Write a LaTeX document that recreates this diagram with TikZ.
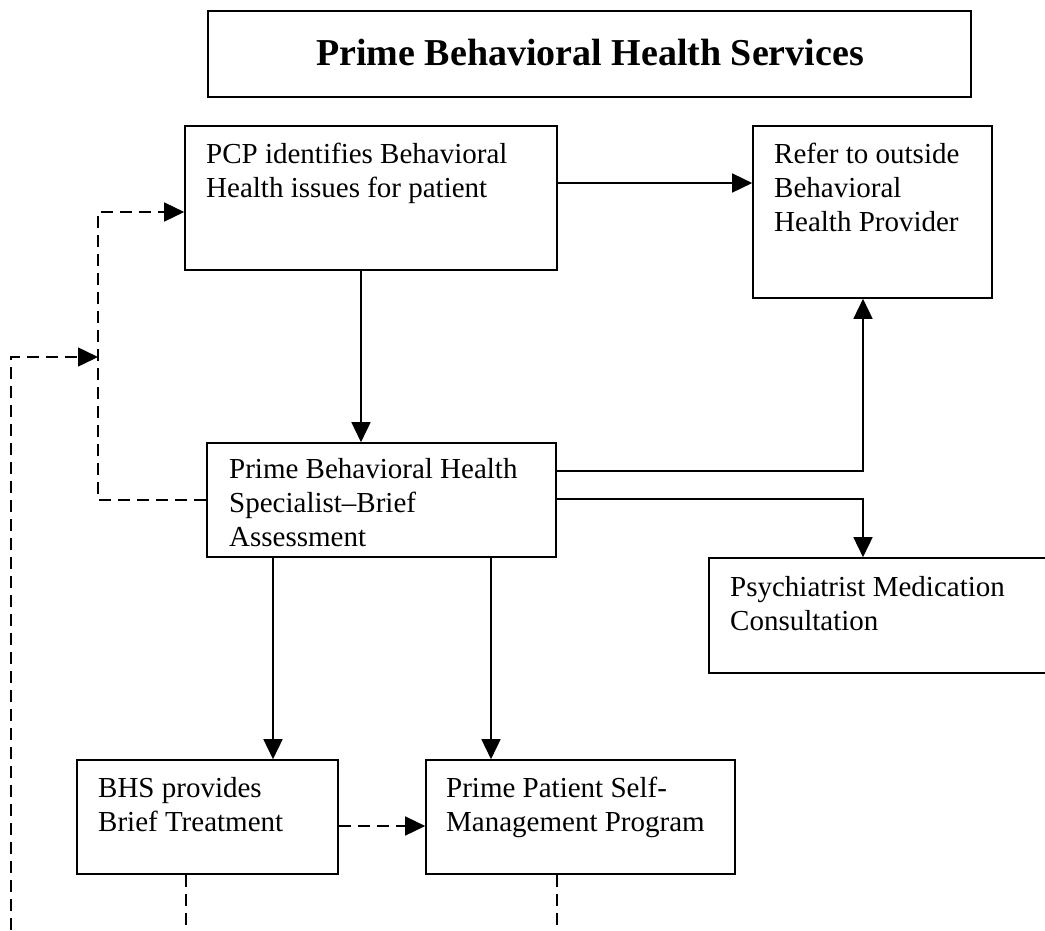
\documentclass[tikz,border=0pt]{standalone}
\usepackage{fontspec}
\setmainfont{Liberation Serif}
\usetikzlibrary{arrows.meta}
\begin{document}
\begin{tikzpicture}[x=1pt,y=-1pt,
  box/.style={draw,line width=1.6pt,inner sep=0pt,rectangle},
  txt/.style={inner sep=0pt,align=left,anchor=base west,font=\fontsize{29}{34}\selectfont},
  arr/.style={line width=1.5pt,-{Triangle[length=20pt,width=19pt]}},
  ln/.style={line width=1.5pt},
  dsh/.style={dash pattern=on 12pt off 7pt}]
\useasboundingbox (0,0) rectangle (1045,930);
% boxes
\node[box,minimum width=763pt,minimum height=86pt] (title) at (589.5,54) {};
\node[box,minimum width=372pt,minimum height=144pt] (pcp) at (371,198) {};
\node[box,minimum width=239pt,minimum height=172pt] (refer) at (872.5,212) {};
\node[box,minimum width=349pt,minimum height=114pt] (pbhs) at (381.5,500) {};
\node[box,minimum width=351pt,minimum height=115pt] (psych) at (884.5,615.5) {};
\node[box,minimum width=261pt,minimum height=114pt] (bhs) at (207.5,817) {};
\node[box,minimum width=309pt,minimum height=114pt] (ppsm) at (580.5,817) {};
% texts
\node[inner sep=0pt,anchor=base,font=\bfseries\fontsize{38}{44}\selectfont] (titlet) at (590,65) {Prime Behavioral Health Services};
\node[txt] (pcpt) at (206,197) {PCP identifies Behavioral\\Health issues for patient};
\node[txt] (refert) at (774,231) {Refer to outside\\Behavioral\\Health Provider};
\node[txt] (pbhst) at (229,546) {Prime Behavioral Health\\Specialist--Brief\\Assessment};
\node[txt] (psycht) at (730,630) {Psychiatrist Medication\\Consultation};
\node[txt] (bhst) at (98,831) {BHS provides\\Brief Treatment};
\node[txt] (ppsmt) at (446,831) {Prime Patient Self-\\Management Program};
% coordinates
\coordinate (jn) at (98,357);
\coordinate (bot) at (11,930);
% solid connectors
\draw[arr] ([yshift=15pt]pcp.east) -- ([yshift=15pt]pcp.east -| refer.west);
\draw[arr] ([xshift=-10pt]pcp.south) -- ([xshift=-10pt]pcp.south |- pbhs.north);
\draw[arr] ([yshift=29pt]pbhs.east) -| ([xshift=-9.5pt]refer.south);
\draw[arr] ([yshift=1pt]pbhs.east) -| ([xshift=-21.5pt]psych.north);
\draw[arr] ([xshift=-108.5pt]pbhs.south) -- ([xshift=-108.5pt]pbhs.south |- bhs.north);
\draw[arr] ([xshift=109.5pt]pbhs.south) -- ([xshift=109.5pt]pbhs.south |- ppsm.north);
% dashed connectors
\draw[arr,dsh] ([yshift=-9pt]bhs.east) -- ([yshift=-9pt]bhs.east -| ppsm.west);
\draw[arr,dsh] (pbhs.west) -| (jn) |- ([yshift=-14pt]pcp.west);
\draw[arr,dsh] (bot) |- (jn);
\draw[ln,dsh] ([xshift=-21.5pt]bhs.south) -- ([xshift=-21.5pt]bhs.south |- bot);
\draw[ln,dsh] ([xshift=-23.5pt]ppsm.south) -- ([xshift=-23.5pt]ppsm.south |- bot);
\end{tikzpicture}
\end{document}
